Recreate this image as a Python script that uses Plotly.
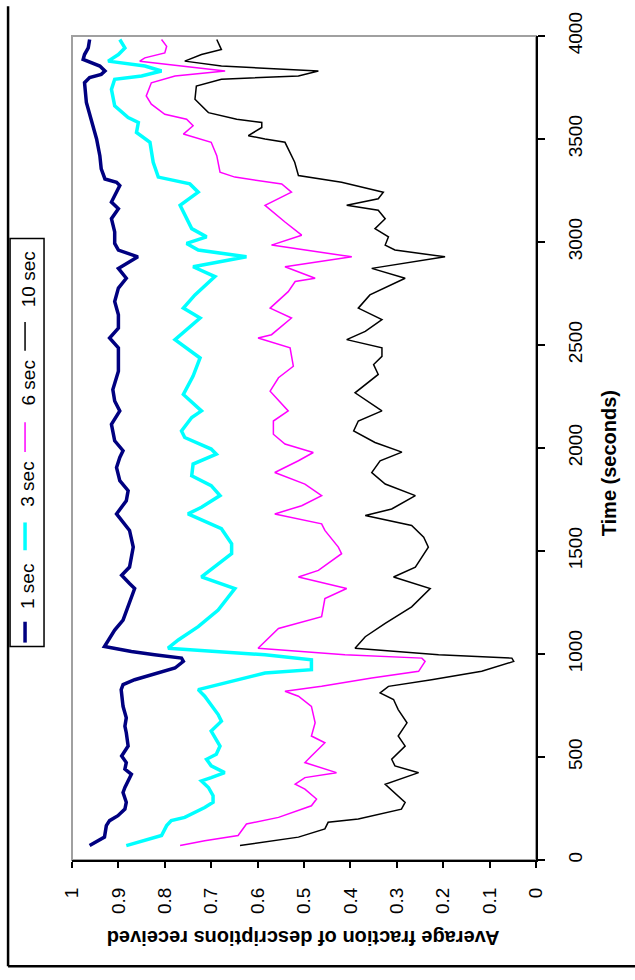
import plotly.graph_objects as go

# ---- data (time in seconds, average fraction of descriptions received) ----
t_1sec = [70, 111, 167, 191, 215, 247, 280, 328, 352, 416, 441, 473, 505, 553, 618, 650, 690, 746, 827, 851,
          875, 899, 932, 964, 980, 996, 1012, 1036, 1068, 1116, 1165, 1229, 1318, 1342, 1382, 1422, 1519, 1600, 1680, 1744,
          1793, 1841, 1905, 1954, 1987, 2035, 2115, 2180, 2228, 2284, 2373, 2486, 2534, 2582, 2647, 2711, 2776, 2824, 2872, 2928,
          2961, 2993, 3049, 3113, 3162, 3194, 3274, 3290, 3306, 3355, 3419, 3500, 3564, 3612, 3677, 3773, 3798, 3814, 3830, 3854,
          3870, 3886, 3910, 3942, 3983]
f_1sec = [0.962, 0.93, 0.926, 0.919, 0.901, 0.886, 0.883, 0.89, 0.886, 0.872, 0.886, 0.883, 0.893, 0.879, 0.883, 0.886, 0.883, 0.89, 0.894, 0.89,
          0.865, 0.829, 0.778, 0.76, 0.764, 0.822, 0.872, 0.93, 0.922, 0.908, 0.89, 0.879, 0.865, 0.876, 0.893, 0.876, 0.868, 0.876, 0.904, 0.883,
          0.879, 0.897, 0.904, 0.897, 0.89, 0.908, 0.915, 0.897, 0.908, 0.912, 0.9, 0.9, 0.919, 0.9, 0.9, 0.908, 0.9, 0.883, 0.9, 0.858,
          0.9, 0.908, 0.908, 0.915, 0.9, 0.915, 0.897, 0.904, 0.929, 0.937, 0.94, 0.947, 0.955, 0.962, 0.969, 0.973, 0.962, 0.937, 0.929, 0.94,
          0.958, 0.976, 0.973, 0.965, 0.962]

t_3sec = [70, 94, 119, 167, 191, 207, 255, 280, 312, 352, 384, 400, 424, 457, 489, 513, 553, 626, 674, 706,
          755, 795, 827, 867, 908, 924, 972, 996, 1028, 1068, 1133, 1213, 1318, 1374, 1398, 1487, 1535, 1608, 1680, 1712,
          1769, 1817, 1865, 1922, 1970, 1995, 2051, 2083, 2148, 2180, 2260, 2349, 2437, 2526, 2631, 2679, 2743, 2832, 2880, 2928,
          2961, 2993, 3025, 3065, 3178, 3242, 3282, 3315, 3387, 3484, 3532, 3580, 3604, 3661, 3741, 3790, 3806, 3830, 3854, 3878,
          3910, 3942, 3983]
f_3sec = [0.883, 0.843, 0.807, 0.796, 0.786, 0.757, 0.714, 0.696, 0.696, 0.706, 0.721, 0.7, 0.671, 0.7, 0.71, 0.689, 0.681, 0.7, 0.678, 0.685,
          0.7, 0.714, 0.728, 0.656, 0.584, 0.484, 0.484, 0.584, 0.793, 0.771, 0.728, 0.685, 0.649, 0.721, 0.707, 0.656, 0.656, 0.678, 0.75, 0.721,
          0.681, 0.7, 0.742, 0.739, 0.689, 0.7, 0.757, 0.764, 0.742, 0.721, 0.76, 0.739, 0.724, 0.778, 0.724, 0.76, 0.735, 0.692, 0.739, 0.624,
          0.728, 0.753, 0.71, 0.742, 0.767, 0.728, 0.746, 0.814, 0.825, 0.832, 0.861, 0.857, 0.879, 0.908, 0.915, 0.908, 0.85, 0.807, 0.843, 0.922,
          0.9, 0.886, 0.897]

t_6sec = [70, 94, 119, 175, 207, 263, 296, 344, 368, 400, 424, 473, 505, 569, 602, 666, 746, 795, 819, 843,
          883, 916, 964, 980, 996, 1028, 1124, 1181, 1269, 1318, 1374, 1406, 1487, 1519, 1600, 1632, 1680, 1720, 1769, 1825,
          1881, 1938, 1978, 2019, 2067, 2131, 2180, 2276, 2341, 2397, 2486, 2534, 2550, 2631, 2679, 2759, 2808, 2824, 2880, 2928,
          2985, 3033, 3097, 3178, 3242, 3282, 3315, 3339, 3419, 3484, 3524, 3564, 3596, 3620, 3669, 3709, 3773, 3806, 3830, 3854,
          3878, 3894, 3918, 3950, 3983]
f_6sec = [0.767, 0.714, 0.642, 0.624, 0.555, 0.484, 0.473, 0.498, 0.519, 0.498, 0.43, 0.498, 0.484, 0.455, 0.484, 0.476, 0.484, 0.512, 0.541, 0.462,
          0.354, 0.253, 0.239, 0.246, 0.412, 0.599, 0.555, 0.462, 0.455, 0.408, 0.512, 0.469, 0.419, 0.426, 0.455, 0.462, 0.563, 0.505, 0.462, 0.498,
          0.563, 0.512, 0.48, 0.541, 0.566, 0.566, 0.534, 0.573, 0.555, 0.523, 0.53, 0.599, 0.57, 0.527, 0.573, 0.534, 0.519, 0.476, 0.541, 0.397,
          0.57, 0.505, 0.541, 0.584, 0.527, 0.548, 0.649, 0.681, 0.688, 0.7, 0.76, 0.739, 0.753, 0.8, 0.829, 0.84, 0.829, 0.778, 0.67, 0.757,
          0.854, 0.843, 0.8, 0.796, 0.807]

t_10sec = [70, 111, 151, 183, 199, 247, 280, 312, 368, 424, 457, 489, 553, 602, 666, 730, 779, 811, 843, 875,
           916, 964, 980, 996, 1028, 1084, 1149, 1229, 1318, 1374, 1422, 1519, 1567, 1624, 1672, 1704, 1769, 1825, 1881, 1938,
           1980, 2027, 2083, 2131, 2180, 2268, 2357, 2405, 2445, 2486, 2526, 2566, 2623, 2679, 2743, 2824, 2872, 2928, 2961, 2985,
           3025, 3065, 3113, 3154, 3178, 3210, 3242, 3290, 3323, 3387, 3484, 3500, 3516, 3556, 3580, 3596, 3628, 3693, 3757, 3790,
           3806, 3830, 3854, 3878, 3910, 3934, 3983]
f_10sec = [0.638, 0.512, 0.455, 0.448, 0.383, 0.29, 0.282, 0.297, 0.325, 0.253, 0.304, 0.311, 0.282, 0.297, 0.278, 0.297, 0.307, 0.336, 0.318, 0.225,
           0.117, 0.048, 0.052, 0.21, 0.39, 0.368, 0.325, 0.268, 0.228, 0.307, 0.26, 0.232, 0.242, 0.268, 0.368, 0.311, 0.26, 0.325, 0.354, 0.336,
           0.289, 0.347, 0.393, 0.383, 0.332, 0.39, 0.34, 0.35, 0.332, 0.332, 0.408, 0.368, 0.332, 0.383, 0.358, 0.282, 0.354, 0.196, 0.304, 0.325,
           0.318, 0.347, 0.325, 0.34, 0.408, 0.34, 0.329, 0.419, 0.512, 0.52, 0.541, 0.584, 0.62, 0.591, 0.591, 0.645, 0.706, 0.735, 0.732, 0.678,
           0.512, 0.469, 0.678, 0.757, 0.721, 0.678, 0.688]

series_names = ["1 sec", "3 sec", "6 sec", "10 sec"]
series_t = [t_1sec, t_3sec, t_6sec, t_10sec]
series_f = [f_1sec, f_3sec, f_6sec, f_10sec]
series_colors = ["#000080", "#00FFFF", "#FF00FF", "#000000"]
series_widths = [3.5, 3.5, 1.5, 1.5]

frac_ticks = [0, 0.1, 0.2, 0.3, 0.4, 0.5, 0.6, 0.7, 0.8, 0.9, 1]
frac_labels = ["0", "0.1", "0.2", "0.3", "0.4", "0.5", "0.6", "0.7", "0.8", "0.9", "1"]
time_ticks = [0, 500, 1000, 1500, 2000, 2500, 3000, 3500, 4000]

# ---- layout geometry (pixels) ----
W, H = 635, 980
L, R, T, B = 72, 536.5, 30, 860


def px(x):
    return (x - L) / (R - L)


def py(y):
    return (B - y) / (B - T)


FONT = "Liberation Sans, Arial, sans-serif"

fig = go.Figure()
for name, tt, ff, c, w in zip(series_names, series_t, series_f, series_colors, series_widths):
    fig.add_trace(go.Scatter(x=ff, y=tt, mode="lines", name=name,
                             line=dict(color=c, width=w), showlegend=False))

fig.update_layout(
    width=W, height=H, autosize=False,
    margin=dict(l=L, r=W - R, t=T, b=H - B, pad=0),
    paper_bgcolor="white", plot_bgcolor="white",
    font=dict(family=FONT, color="black"),
    xaxis=dict(range=[1, 0], tickvals=frac_ticks, ticktext=frac_labels, tickangle=-90,
               ticks="outside", ticklen=6, tickwidth=1.5, tickcolor="black",
               showline=True, linecolor="black", linewidth=2,
               showgrid=False, zeroline=False, tickfont=dict(size=19, family=FONT),
               ticklabelstandoff=12),
    yaxis=dict(range=[0, 4000], side="right", tickvals=time_ticks, tickangle=-90,
               ticks="outside", ticklen=7, tickwidth=1.5, tickcolor="black",
               showline=True, linecolor="black", linewidth=2,
               showgrid=False, zeroline=False, tickfont=dict(size=19, family=FONT),
               ticklabelstandoff=14),
)

shapes = [
    # plot area border
    dict(type="rect", xref="paper", yref="paper", x0=0, x1=1, y0=0, y1=1,
         line=dict(color="#A0A0A0", width=2), layer="below"),
    # outer chart border
    dict(type="line", xref="paper", yref="paper", x0=px(8), x1=px(8), y0=py(0), y1=py(967),
         line=dict(color="black", width=2.5)),
    dict(type="line", xref="paper", yref="paper", x0=px(8), x1=px(640), y0=py(967), y1=py(967),
         line=dict(color="black", width=2.5)),
    # legend box
    dict(type="rect", xref="paper", yref="paper", x0=px(10), x1=px(44), y0=py(645), y1=py(234),
         line=dict(color="black", width=1.5), fillcolor="white"),
]

legend_line_y = [(620, 641), (520, 548), (419, 449), (318, 347)]
legend_text_y = [585, 482, 380, 275]
for (y0, y1), c, w in zip(legend_line_y, series_colors, series_widths):
    shapes.append(dict(type="line", xref="paper", yref="paper", x0=px(25), x1=px(25),
                       y0=py(y0), y1=py(y1), line=dict(color=c, width=w)))
fig.update_layout(shapes=shapes)

annotations = []
for name, yc in zip(series_names, legend_text_y):
    annotations.append(dict(text=name, textangle=-90, xref="paper", yref="paper",
                            x=px(28), y=py(yc), showarrow=False, xanchor="center", yanchor="middle",
                            font=dict(size=19, family=FONT, color="black")))
annotations.append(dict(text="<b>Average fraction of descriptions received</b>", textangle=180,
                        xref="paper", yref="paper", x=px(303), y=py(938), showarrow=False,
                        xanchor="center", yanchor="middle", font=dict(size=20, family=FONT)))
annotations.append(dict(text="<b>Time (seconds)</b>", textangle=-90,
                        xref="paper", yref="paper", x=px(609), y=py(460), showarrow=False,
                        xanchor="center", yanchor="middle", font=dict(size=20, family=FONT)))
fig.update_layout(annotations=annotations)

fig.write_html("out.html")
